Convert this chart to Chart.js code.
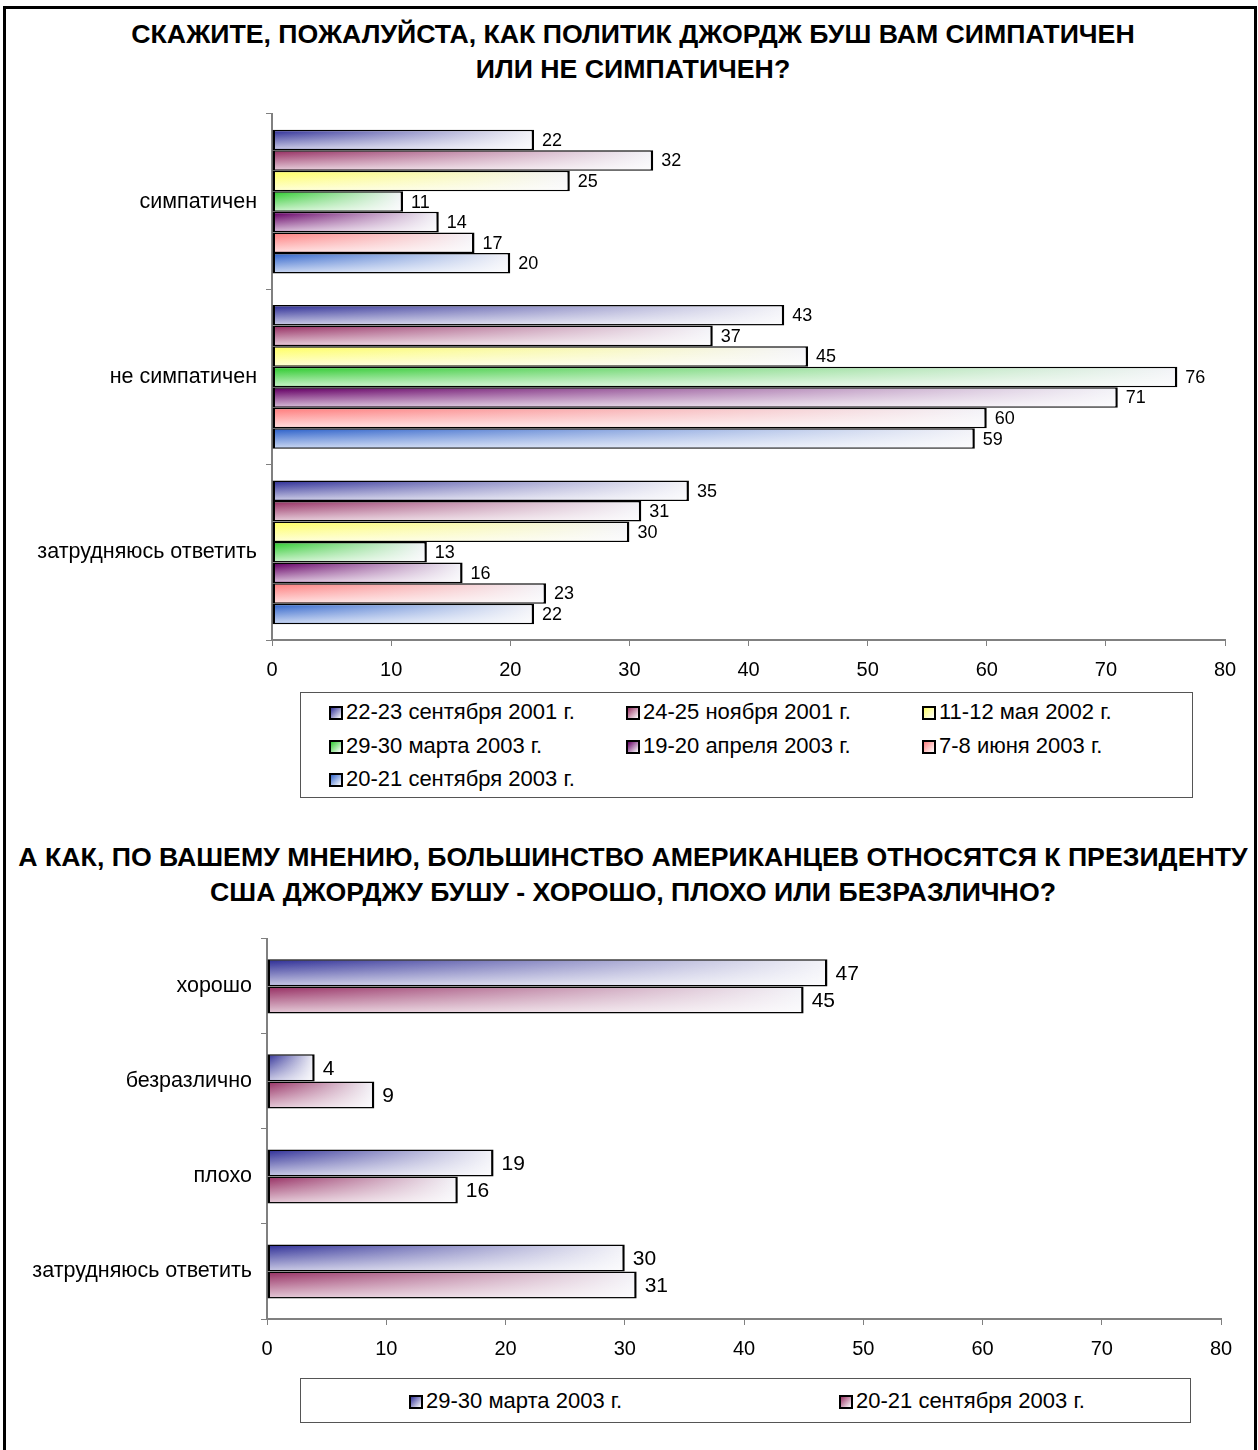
<!DOCTYPE html>
<html>
<head>
<meta charset="utf-8">
<script src="https://cdn.jsdelivr.net/npm/chart.js@4.4.0/dist/chart.umd.min.js"></script>
<style>
  body { margin: 0; background: #fff; font-family: 'Liberation Sans', Arial, sans-serif; color: #000; }
  #page { position: relative; width: 1258px; height: 1450px; overflow: hidden; }
  #frame { position: absolute; left: 3px; top: 6px; width: 1248px; height: 1460px; border: 3px solid #000; }
  .title { position: absolute; left: 0; width: 1266px; text-align: center; font-weight: bold; font-size: 26.7px; line-height: 35px; white-space: nowrap; }
  canvas { position: absolute; left: 0; }
  .legend { position: absolute; border: 1px solid #555; box-sizing: border-box; }
  .item { position: absolute; font-size: 22px; line-height: 26px; white-space: nowrap; transform: translateY(-50%); }
  .sw { display: inline-block; width: 10px; height: 10px; border: 2px solid #000; margin-right: 3px; vertical-align: -1px; }
</style>
</head>
<body>
<div id="page">
  <div id="frame"></div>
  <div class="title" style="top:17px">СКАЖИТЕ, ПОЖАЛУЙСТА, КАК ПОЛИТИК ДЖОРДЖ БУШ ВАМ СИМПАТИЧЕН<br>ИЛИ НЕ СИМПАТИЧЕН?</div>
  <canvas id="chart1" width="1258" height="598" style="top:92px"></canvas>
  <div class="legend" id="legend1" style="left:300px;top:692px;width:893px;height:106px"></div>

  <div class="title" style="top:840px">А КАК, ПО ВАШЕМУ МНЕНИЮ, БОЛЬШИНСТВО АМЕРИКАНЦЕВ ОТНОСЯТСЯ К ПРЕЗИДЕНТУ<br>США ДЖОРДЖУ БУШУ - ХОРОШО, ПЛОХО ИЛИ БЕЗРАЗЛИЧНО?</div>
  <canvas id="chart2" width="1258" height="453" style="top:917px"></canvas>
  <div class="legend" id="legend2" style="left:300px;top:1378px;width:891px;height:45px"></div>
</div>

<script>
// --- chart 1: симпатичен / не симпатичен
const cats1 = ['симпатичен', 'не симпатичен', 'затрудняюсь ответить'];
const series1 = ['22-23 сентября 2001 г.', '24-25 ноября 2001 г.', '11-12 мая 2002 г.',
                 '29-30 марта 2003 г.', '19-20 апреля 2003 г.', '7-8 июня 2003 г.',
                 '20-21 сентября 2003 г.'];
const sep2001 = [22, 43, 35];
const nov2001 = [32, 37, 31];
const may2002 = [25, 45, 30];
const mar2003 = [11, 76, 13];
const apr2003 = [14, 71, 16];
const jun2003 = [17, 60, 23];
const sep2003 = [20, 59, 22];
const colors1 = ['#333399', '#993366', '#ffff66', '#33cc33', '#660066', '#ff8080', '#3366cc'];

// --- chart 2: отношение американцев
const cats2 = ['хорошо', 'безразлично', 'плохо', 'затрудняюсь ответить'];
const series2 = ['29-30 марта 2003 г.', '20-21 сентября 2003 г.'];
const mar2003b = [47, 4, 19, 30];
const sep2003b = [45, 9, 16, 31];
const colors2 = ['#333399', '#993366'];

const xTicks = [0, 10, 20, 30, 40, 50, 60, 70, 80];
const FONT = "'Liberation Sans', Arial, sans-serif";
const BW = { top: 1.5, bottom: 1.5, left: 2.5, right: 2.5 };

// colour fading to white along the bar (scriptable, so every bar gets its own)
function fadeFill(color) {
  return c => {
    const xs = c.chart.scales.x;
    if (!xs || c.raw == null) return color;
    const x0 = xs.getPixelForValue(0), x1 = xs.getPixelForValue(c.raw);
    if (!isFinite(x0) || !isFinite(x1) || x1 <= x0) return color;
    const g = c.chart.ctx.createLinearGradient(x0, 0, x1, 0);
    g.addColorStop(0, color);
    g.addColorStop(1, '#f3f3f8');
    return g;
  };
}

// lighter lower half + value labels
const barExtras = {
  id: 'barExtras',
  afterDatasetsDraw(chart, args, opts) {
    const ctx = chart.ctx;
    ctx.save();
    chart.data.datasets.forEach((ds, i) => {
      chart.getDatasetMeta(i).data.forEach(bar => {
        const p = bar.getProps(['x', 'y', 'base', 'height'], true);
        const top = p.y - p.height / 2 + BW.top, bottom = p.y + p.height / 2 - BW.bottom;
        const g = ctx.createLinearGradient(0, top, 0, bottom);
        g.addColorStop(0, 'rgba(255,255,255,0)');
        g.addColorStop(1, 'rgba(255,255,255,0.7)');
        ctx.fillStyle = g;
        ctx.fillRect(p.base + BW.left, top, p.x - p.base - BW.left - BW.right, bottom - top);
      });
    });
    ctx.fillStyle = '#000';
    ctx.font = opts.labelSize + 'px ' + FONT;
    ctx.textBaseline = 'middle';
    ctx.textAlign = 'left';
    chart.data.datasets.forEach((ds, i) => {
      chart.getDatasetMeta(i).data.forEach((bar, j) => {
        const p = bar.getProps(['x', 'y'], true);
        ctx.fillText(ds.data[j], p.x + 8, p.y + 1);
      });
    });
    ctx.restore();
  }
};

function makeChart(id, cats, names, values, colors, cfg) {
  return new Chart(document.getElementById(id), {
    type: 'bar',
    data: {
      labels: cats,
      datasets: values.map((v, i) => ({
        label: names[i],
        data: v,
        backgroundColor: fadeFill(colors[i]),
        borderColor: '#000',
        borderWidth: BW,
        borderSkipped: false,
        barPercentage: 1.0,
        categoryPercentage: cfg.catPct
      }))
    },
    options: {
      indexAxis: 'y',
      responsive: false,
      animation: false,
      devicePixelRatio: 1,
      layout: { padding: { top: 0, right: cfg.padRight, left: 0, bottom: 0 } },
      plugins: {
        legend: { display: false },
        tooltip: { enabled: false },
        barExtras: { labelSize: cfg.labelSize }
      },
      scales: {
        x: {
          min: 0, max: 80,
          afterBuildTicks: s => { s.ticks = xTicks.map(v => ({ value: v })); },
          afterFit: s => { s.height = cfg.xHeight; },
          grid: { drawOnChartArea: false, tickLength: 6, color: '#808080' },
          border: { color: '#808080', width: 2 },
          ticks: { color: '#000', padding: 12, font: { family: FONT, size: 20 } }
        },
        y: {
          afterFit: s => { s.width = cfg.yWidth; },
          grid: { drawOnChartArea: false, offset: true, tickLength: 6, color: '#808080' },
          border: { color: '#808080', width: 2 },
          ticks: { color: '#000', padding: 9, font: { family: FONT, size: 21.5 } }
        }
      }
    },
    plugins: [barExtras]
  });
}

makeChart('chart1', cats1, series1,
  [sep2001, nov2001, may2002, mar2003, apr2003, jun2003, sep2003], colors1,
  { catPct: 0.82, padRight: 33, xHeight: 50, yWidth: 272, labelSize: 18 });

makeChart('chart2', cats2, series2, [mar2003b, sep2003b], colors2,
  { catPct: 0.57, padRight: 37, xHeight: 51, yWidth: 267, labelSize: 21 });

// html legends
function buildLegend(id, names, colors, places) {
  const box = document.getElementById(id);
  names.forEach((n, i) => {
    const d = document.createElement('div');
    d.className = 'item';
    d.style.left = places[i][0] + 'px';
    d.style.top = places[i][1] + 'px';
    d.innerHTML = '<span class="sw" style="background:linear-gradient(135deg,' + colors[i] + ',#fff)"></span>' + n;
    box.appendChild(d);
  });
}
buildLegend('legend1', series1, colors1,
  [[28, 19], [325, 19], [621, 19], [28, 53], [325, 53], [621, 53], [28, 86]]);
buildLegend('legend2', series2, colors2, [[108, 22], [538, 22]]);
</script>
</body>
</html>
